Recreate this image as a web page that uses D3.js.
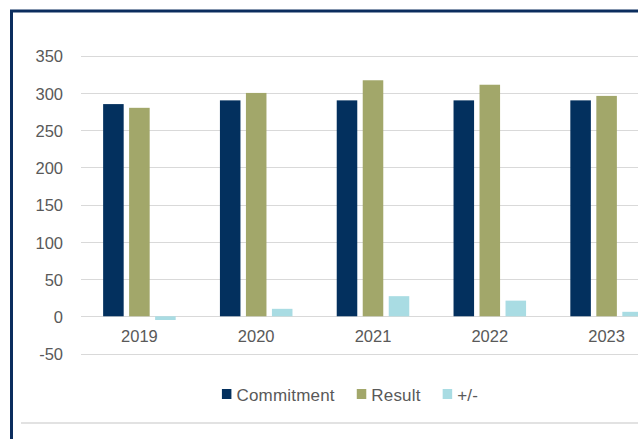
<!DOCTYPE html>
<html>
<head>
<meta charset="utf-8">
<script src="https://cdn.jsdelivr.net/npm/d3@7"></script>
<style>
html,body{margin:0;padding:0;background:#fff;}
svg{display:block;}
text{font-family:"Liberation Sans",Arial,sans-serif;fill:#595959;}
</style>
</head>
<body>
<svg id="chart" width="638" height="439"></svg>
<script>
const years = ["2019","2020","2021","2022","2023"];
const seriesNames = ["Commitment","Result","+/-"];
const commitment = [285, 290, 290, 290, 290];
const result = [280, 300, 317, 311, 296];
const diff = [-5, 10, 27, 21, 6];
const yTicks = [-50, 0, 50, 100, 150, 200, 250, 300, 350];
const colors = ["#03305E", "#A2A76A", "#A9DCE3"];

const seriesValues = [commitment, result, diff];
const svg = d3.select("#chart");

// frame
svg.append("rect").attr("x", 11.5).attr("y", 11).attr("width", 700).attr("height", 500)
  .attr("fill", "none").attr("stroke", "#0B2D5E").attr("stroke-width", 3);
svg.append("line").attr("x1", 21).attr("x2", 638).attr("y1", 423).attr("y2", 423)
  .attr("stroke", "#d9d9d9").attr("stroke-width", 1.5);

const plotLeft = 81, step = 116.8;
const x0 = d3.scaleBand().domain(years).range([plotLeft, plotLeft + step * years.length]).padding(0);
const y = d3.scaleLinear().domain([-50, 350]).range([353.5, 55.7]);

// gridlines
svg.append("g").selectAll("line").data(yTicks).join("line")
  .attr("x1", plotLeft).attr("x2", 700)
  .attr("y1", d => Math.round(y(d)) + 0.5).attr("y2", d => Math.round(y(d)) + 0.5)
  .attr("stroke", "#d9d9d9").attr("stroke-width", 1.2);

// y axis labels
const yAxis = d3.axisLeft(y).tickValues(yTicks).tickFormat(d => String(d)).tickSize(0).tickPadding(0);
const gy = svg.append("g").attr("transform", "translate(63,1)").call(yAxis);
gy.select(".domain").remove();
gy.selectAll("text").attr("font-size", "16.5px").attr("fill", "#595959")
  .style("font-family", '"Liberation Sans",Arial,sans-serif');

// bars
years.forEach((yr, i) => {
  const c = x0(yr) + x0.bandwidth() / 2;
  const x1 = d3.scaleBand().domain(seriesNames).range([c - 39, c + 39])
    .paddingInner(0.21).paddingOuter(0.105);
  seriesNames.forEach((s, j) => {
    const v = seriesValues[j][i];
    svg.append("rect")
      .attr("x", x1(s)).attr("width", x1.bandwidth())
      .attr("y", Math.min(y(v), y(0))).attr("height", Math.abs(y(v) - y(0)))
      .attr("fill", colors[j]);
  });
});

// x axis labels
const xAxis = d3.axisBottom(x0).tickSize(0).tickPadding(0);
const gx = svg.append("g").attr("transform", "translate(0,330)").call(xAxis);
gx.select(".domain").remove();
gx.selectAll("text").attr("font-size", "16.5px").attr("fill", "#595959")
  .style("font-family", '"Liberation Sans",Arial,sans-serif');

// legend
const legend = svg.append("g");
let cx = 0;
seriesNames.forEach((s, j) => {
  const g = legend.append("g");
  g.append("rect").attr("x", 0).attr("y", 389).attr("width", 9.5).attr("height", 10).attr("fill", colors[j]);
  const t = g.append("text").attr("x", 14.5).attr("y", 400.5).attr("font-size", "17px")
    .style("letter-spacing", "0.2px").text(s);
  const w = 14.5 + t.node().getComputedTextLength();
  g.attr("transform", `translate(${cx},0)`);
  cx += w + 22;
});
const total = cx - 22;
legend.attr("transform", `translate(${350 - total / 2},0)`);
</script>
</body>
</html>
